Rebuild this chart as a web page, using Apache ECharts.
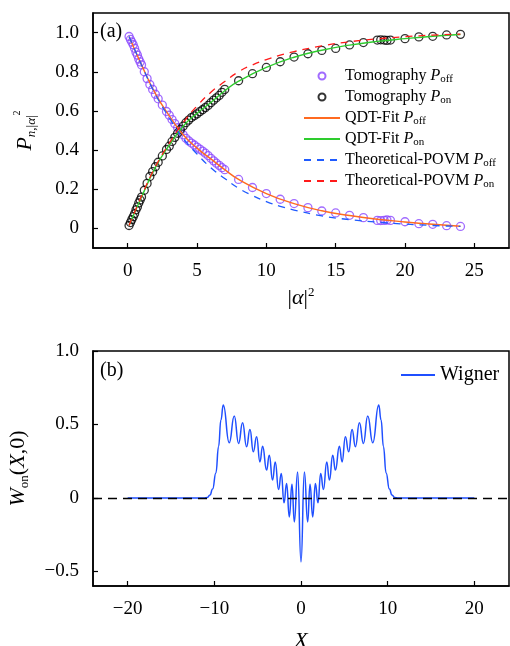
<!DOCTYPE html>
<html>
<head>
<meta charset="utf-8">
<script src="https://cdn.jsdelivr.net/npm/echarts@6/dist/echarts.min.js"></script>
<style>
  html, body { margin: 0; padding: 0; background: #fff; }
  #chart { width: 510px; height: 646px; }
</style>
</head>
<body>
<div id="chart"></div>
<script>
// (a) tomography points
var tomoX = [0.1, 0.2, 0.3, 0.4, 0.5, 0.6, 0.7, 0.8, 0.9, 1.0, 1.2, 1.4, 1.6, 1.8, 2.0, 2.2, 2.5, 2.8, 3.0, 3.2,
  3.4, 3.6, 3.8, 4.0, 4.2, 4.4, 4.6, 4.8, 5.0, 5.2, 5.4, 5.6, 5.8, 6.0, 6.2, 6.4, 6.6, 6.8, 7.0,
  8, 9, 10, 11, 12, 13, 14, 15, 16, 17, 18.0, 18.25, 18.5, 18.7, 18.95, 20, 21, 22, 23, 24];
var tomoOff = [0.98, 0.965, 0.952, 0.938, 0.92, 0.90, 0.885, 0.865, 0.85, 0.835, 0.80, 0.765, 0.735, 0.71, 0.685, 0.662, 0.63, 0.597, 0.578, 0.556,
  0.535, 0.514, 0.496, 0.478, 0.46, 0.447, 0.436, 0.426, 0.415, 0.405, 0.395, 0.384, 0.372, 0.358, 0.345, 0.333, 0.322, 0.31, 0.30,
  0.25, 0.209, 0.178, 0.149, 0.127, 0.106, 0.089, 0.079, 0.067, 0.055, 0.041, 0.040, 0.041, 0.043, 0.041, 0.034, 0.024, 0.021, 0.014, 0.010];
var tomoOn = [0.015, 0.03, 0.045, 0.06, 0.075, 0.095, 0.11, 0.13, 0.145, 0.16, 0.195, 0.23, 0.265, 0.29, 0.315, 0.338, 0.37, 0.403, 0.42, 0.444,
  0.465, 0.486, 0.505, 0.522, 0.54, 0.553, 0.566, 0.575, 0.585, 0.596, 0.606, 0.617, 0.628, 0.642, 0.655, 0.667, 0.679, 0.695, 0.71,
  0.754, 0.79, 0.822, 0.851, 0.875, 0.892, 0.909, 0.919, 0.937, 0.949, 0.962, 0.963, 0.962, 0.960, 0.962, 0.969, 0.978, 0.981, 0.988, 0.991];

// QDT fit curves
var fitX = [0.1, 1, 2, 3, 4, 5, 6, 7, 8, 10, 12, 14, 16, 18, 20, 22, 24];
var fitOff = [0.98, 0.835, 0.688, 0.575, 0.478, 0.41, 0.355, 0.30, 0.25, 0.178, 0.127, 0.09, 0.066, 0.047, 0.033, 0.021, 0.011];
var fitOn = [0.015, 0.16, 0.312, 0.425, 0.522, 0.588, 0.643, 0.703, 0.752, 0.822, 0.874, 0.91, 0.936, 0.955, 0.969, 0.981, 0.99];

// theoretical POVM curves
var theoX = [0.1, 1, 2, 3, 4, 5, 6, 7, 8, 9, 10, 11, 12, 14, 16, 18, 20, 22, 24];
var theoOff = [0.98, 0.835, 0.685, 0.565, 0.46, 0.38, 0.31, 0.255, 0.205, 0.168, 0.137, 0.113, 0.094, 0.064, 0.045, 0.032, 0.022, 0.015, 0.01];
var theoOn = [0.015, 0.165, 0.315, 0.435, 0.54, 0.625, 0.695, 0.75, 0.8, 0.835, 0.862, 0.885, 0.903, 0.932, 0.953, 0.968, 0.979, 0.987, 0.992];

// (b) Wigner cut
var wigX = [-20, -14, -11.2, -10.8, -10.5, -10.2, -9.82, -9.51, -9.24, -8.97, -8.28, -7.7, -7.2, -6.74, -6.28, -5.89, -5.5, -5.12,
  -4.74, -4.43, -3.97, -3.66, -3.28, -2.97, -2.59, -2.27, -1.96, -1.66, -1.35, -1.04, -0.77, -0.39, 0,
  0.39, 0.77, 1.04, 1.35, 1.66, 1.96, 2.27, 2.59, 2.97, 3.28, 3.66, 3.97, 4.43, 4.74, 5.12, 5.5, 5.89,
  6.28, 6.74, 7.2, 7.7, 8.28, 8.97, 9.24, 9.51, 9.82, 10.2, 10.5, 10.8, 11.2, 14, 20];
var wigW = [0, 0, 0, 0.003, 0.02, 0.06, 0.17, 0.35, 0.53, 0.632, 0.375, 0.557, 0.371, 0.511, 0.348, 0.466, 0.314, 0.416,
  0.245, 0.352, 0.189, 0.291, 0.121, 0.245, 0.057, 0.166, -0.034, 0.098, -0.13, 0.093, -0.164, 0.177, -0.436,
  0.177, -0.164, 0.093, -0.13, 0.098, -0.034, 0.166, 0.057, 0.245, 0.121, 0.291, 0.189, 0.352, 0.245, 0.416, 0.314, 0.466,
  0.348, 0.511, 0.371, 0.557, 0.375, 0.632, 0.53, 0.35, 0.17, 0.06, 0.02, 0.003, 0, 0, 0];

var ticksA_x = [0, 5, 10, 15, 20, 25];
var ticksA_y = [0, 0.2, 0.4, 0.6, 0.8, 1.0];
var ticksB_x = [-20, -10, 0, 10, 20];
var ticksB_y = [-0.5, 0, 0.5, 1.0];

var FONT = 'Liberation Serif';

function pairs(xs, ys) {
  return xs.map(function (x, i) { return [x, ys[i]]; });
}
function num(v, digits) {
  if (v === 0) return '0';
  var s = digits ? v.toFixed(digits) : String(v);
  return s.replace('-', '\u2212');
}

var legendText = {
  'tOff': '{n|Tomography }{i|P}{s|off}',
  'tOn': '{n|Tomography }{i|P}{s|on}',
  'fOff': '{n|QDT-Fit }{i|P}{s|off}',
  'fOn': '{n|QDT-Fit }{i|P}{s|on}',
  'pOff': '{n|Theoretical-POVM }{i|P}{s|off}',
  'pOn': '{n|Theoretical-POVM }{i|P}{s|on}'
};
// line entries: hide the little dot that echarts puts on line icons
var noDot = { opacity: 0 };

function axisX(grid, min, max, ticks, name, gap) {
  return {
    type: 'value', gridIndex: grid, min: min, max: max,
    name: name, nameLocation: 'middle', nameGap: gap,
    nameTextStyle: {
      fontFamily: FONT, fontSize: 22, color: '#000',
      rich: {
        n: { fontFamily: FONT, fontSize: 22, lineHeight: 24 },
        i: { fontFamily: FONT, fontSize: 22, fontStyle: 'italic', lineHeight: 24 },
        sup: { fontFamily: FONT, fontSize: 13, verticalAlign: 'top', lineHeight: 12 }
      }
    },
    axisLine: { show: true, onZero: false, lineStyle: { color: '#000', width: 1.5 } },
    axisTick: { inside: true, length: 5, customValues: ticks, lineStyle: { color: '#000', width: 1.2 } },
    axisLabel: {
      customValues: ticks, margin: 14, fontFamily: FONT, fontSize: 19, color: '#000',
      formatter: function (v) { return num(v); }
    },
    splitLine: { show: false }
  };
}
function axisY(grid, min, max, ticks, name, gap) {
  return {
    type: 'value', gridIndex: grid, min: min, max: max,
    name: name, nameLocation: 'middle', nameGap: gap, nameRotate: 90,
    nameTextStyle: {
      fontFamily: FONT, fontSize: 22, color: '#000',
      rich: {
        n: { fontFamily: FONT, fontSize: 22, lineHeight: 26 },
        i: { fontFamily: FONT, fontSize: 22, fontStyle: 'italic', lineHeight: 26 },
        sub: { fontFamily: FONT, fontSize: 13, verticalAlign: 'bottom', lineHeight: 10 },
        subi: { fontFamily: FONT, fontSize: 13, fontStyle: 'italic', verticalAlign: 'bottom', lineHeight: 10 },
        sup: { fontFamily: FONT, fontSize: 10, verticalAlign: 'top', lineHeight: 10 }
      }
    },
    axisLine: { show: true, onZero: false, lineStyle: { color: '#000', width: 1.5 } },
    axisTick: { inside: true, length: 5, customValues: ticks, lineStyle: { color: '#000', width: 1.2 } },
    axisLabel: {
      customValues: ticks, margin: 14, fontFamily: FONT, fontSize: 19, color: '#000',
      formatter: function (v) { return num(v, 1); }
    },
    splitLine: { show: false }
  };
}

var chart = echarts.init(document.getElementById('chart'), null, { renderer: 'canvas', width: 510, height: 646 });

var option = {
  animation: false,
  backgroundColor: '#fff',
  grid: [
    { left: 93, right: 1, top: 13, height: 235, outerBoundsMode: 'none', show: true, borderColor: '#000', borderWidth: 1.5 },
    { left: 93, right: 1, top: 351, height: 235, outerBoundsMode: 'none', show: true, borderColor: '#000', borderWidth: 1.5 }
  ],
  xAxis: [
    axisX(0, -2.5, 27.5, ticksA_x, '{n||}{i|α}{n||}{sup|2}', 38),
    axisX(1, -24, 24, ticksB_x, '{i|X}', 43)
  ],
  yAxis: [
    axisY(0, -0.1, 1.1, ticksA_y, '{i|P}{subi|n}{sub|,|}{subi|α}{sub||}{sup|2}', 55),
    axisY(1, -0.6, 1.0, ticksB_y, '{i|W}{sub|on}{n|(}{i|X}{n|,0)}', 62)
  ],
  legend: [{
    data: [
      { name: 'tOff' },
      { name: 'tOn' },
      { name: 'fOff', itemStyle: noDot },
      { name: 'fOn', itemStyle: noDot },
      { name: 'pOff', itemStyle: noDot },
      { name: 'pOn', itemStyle: noDot }
    ],
    orient: 'vertical', left: 298, top: 63,
    itemWidth: 36, itemHeight: 7, itemGap: 4,
    formatter: function (name) { return legendText[name]; },
    textStyle: {
      fontFamily: FONT, fontSize: 16, color: '#000',
      rich: {
        n: { fontFamily: FONT, fontSize: 16, lineHeight: 18 },
        i: { fontFamily: FONT, fontSize: 16, fontStyle: 'italic', lineHeight: 18 },
        s: { fontFamily: FONT, fontSize: 11, verticalAlign: 'bottom', lineHeight: 8 }
      }
    }
  }, {
    data: [{ name: 'Wigner', itemStyle: noDot }],
    left: 395, top: 360, itemWidth: 34, itemHeight: 10,
    textStyle: { fontFamily: FONT, fontSize: 20, color: '#000' }
  }],
  graphic: [
    { type: 'text', left: 100, top: 22, style: { text: '(a)', font: '20px "Liberation Serif"', fill: '#000' } },
    { type: 'text', left: 100, top: 361, style: { text: '(b)', font: '20px "Liberation Serif"', fill: '#000' } }
  ],
  series: [
    {
      name: 'tOff', type: 'scatter', xAxisIndex: 0, yAxisIndex: 0, z: 2,
      data: pairs(tomoX, tomoOff), symbol: 'circle', symbolSize: 8,
      itemStyle: { color: 'rgba(255,255,255,0)', borderColor: '#8a46ff', borderWidth: 1.3 }
    },
    {
      name: 'tOn', type: 'scatter', xAxisIndex: 0, yAxisIndex: 0, z: 2,
      data: pairs(tomoX, tomoOn), symbol: 'circle', symbolSize: 8,
      itemStyle: { color: 'rgba(255,255,255,0)', borderColor: '#000', borderWidth: 1.3 }
    },
    {
      name: 'fOff', type: 'line', xAxisIndex: 0, yAxisIndex: 0, z: 3,
      data: pairs(fitX, fitOff), smooth: true, symbol: 'none',
      lineStyle: { color: '#ff6a20', width: 1.4 }, itemStyle: { color: '#ff6a20' }
    },
    {
      name: 'fOn', type: 'line', xAxisIndex: 0, yAxisIndex: 0, z: 3,
      data: pairs(fitX, fitOn), smooth: true, symbol: 'none',
      lineStyle: { color: '#2ecc2e', width: 1.4 }, itemStyle: { color: '#2ecc2e' }
    },
    {
      name: 'pOff', type: 'line', xAxisIndex: 0, yAxisIndex: 0, z: 3,
      data: pairs(theoX, theoOff), smooth: true, symbol: 'none',
      lineStyle: { color: '#1f5bff', width: 1.3, type: [7, 6] }, itemStyle: { color: '#1f5bff' }
    },
    {
      name: 'pOn', type: 'line', xAxisIndex: 0, yAxisIndex: 0, z: 3,
      data: pairs(theoX, theoOn), smooth: true, symbol: 'none',
      lineStyle: { color: '#ff1a1a', width: 1.3, type: [7, 6] }, itemStyle: { color: '#ff1a1a' }
    },
    {
      name: 'Wigner', type: 'line', xAxisIndex: 1, yAxisIndex: 1, z: 3,
      data: pairs(wigX, wigW), smooth: true, smoothMonotone: 'x', symbol: 'none',
      lineStyle: { color: '#1f4fff', width: 1.5 }, itemStyle: { color: '#1f4fff' },
      markLine: {
        silent: true, symbol: 'none', label: { show: false },
        lineStyle: { color: '#000', type: [9, 6], width: 1.3 },
        data: [{ yAxis: 0 }]
      }
    }
  ]
};

chart.setOption(option);
</script>
</body>
</html>
